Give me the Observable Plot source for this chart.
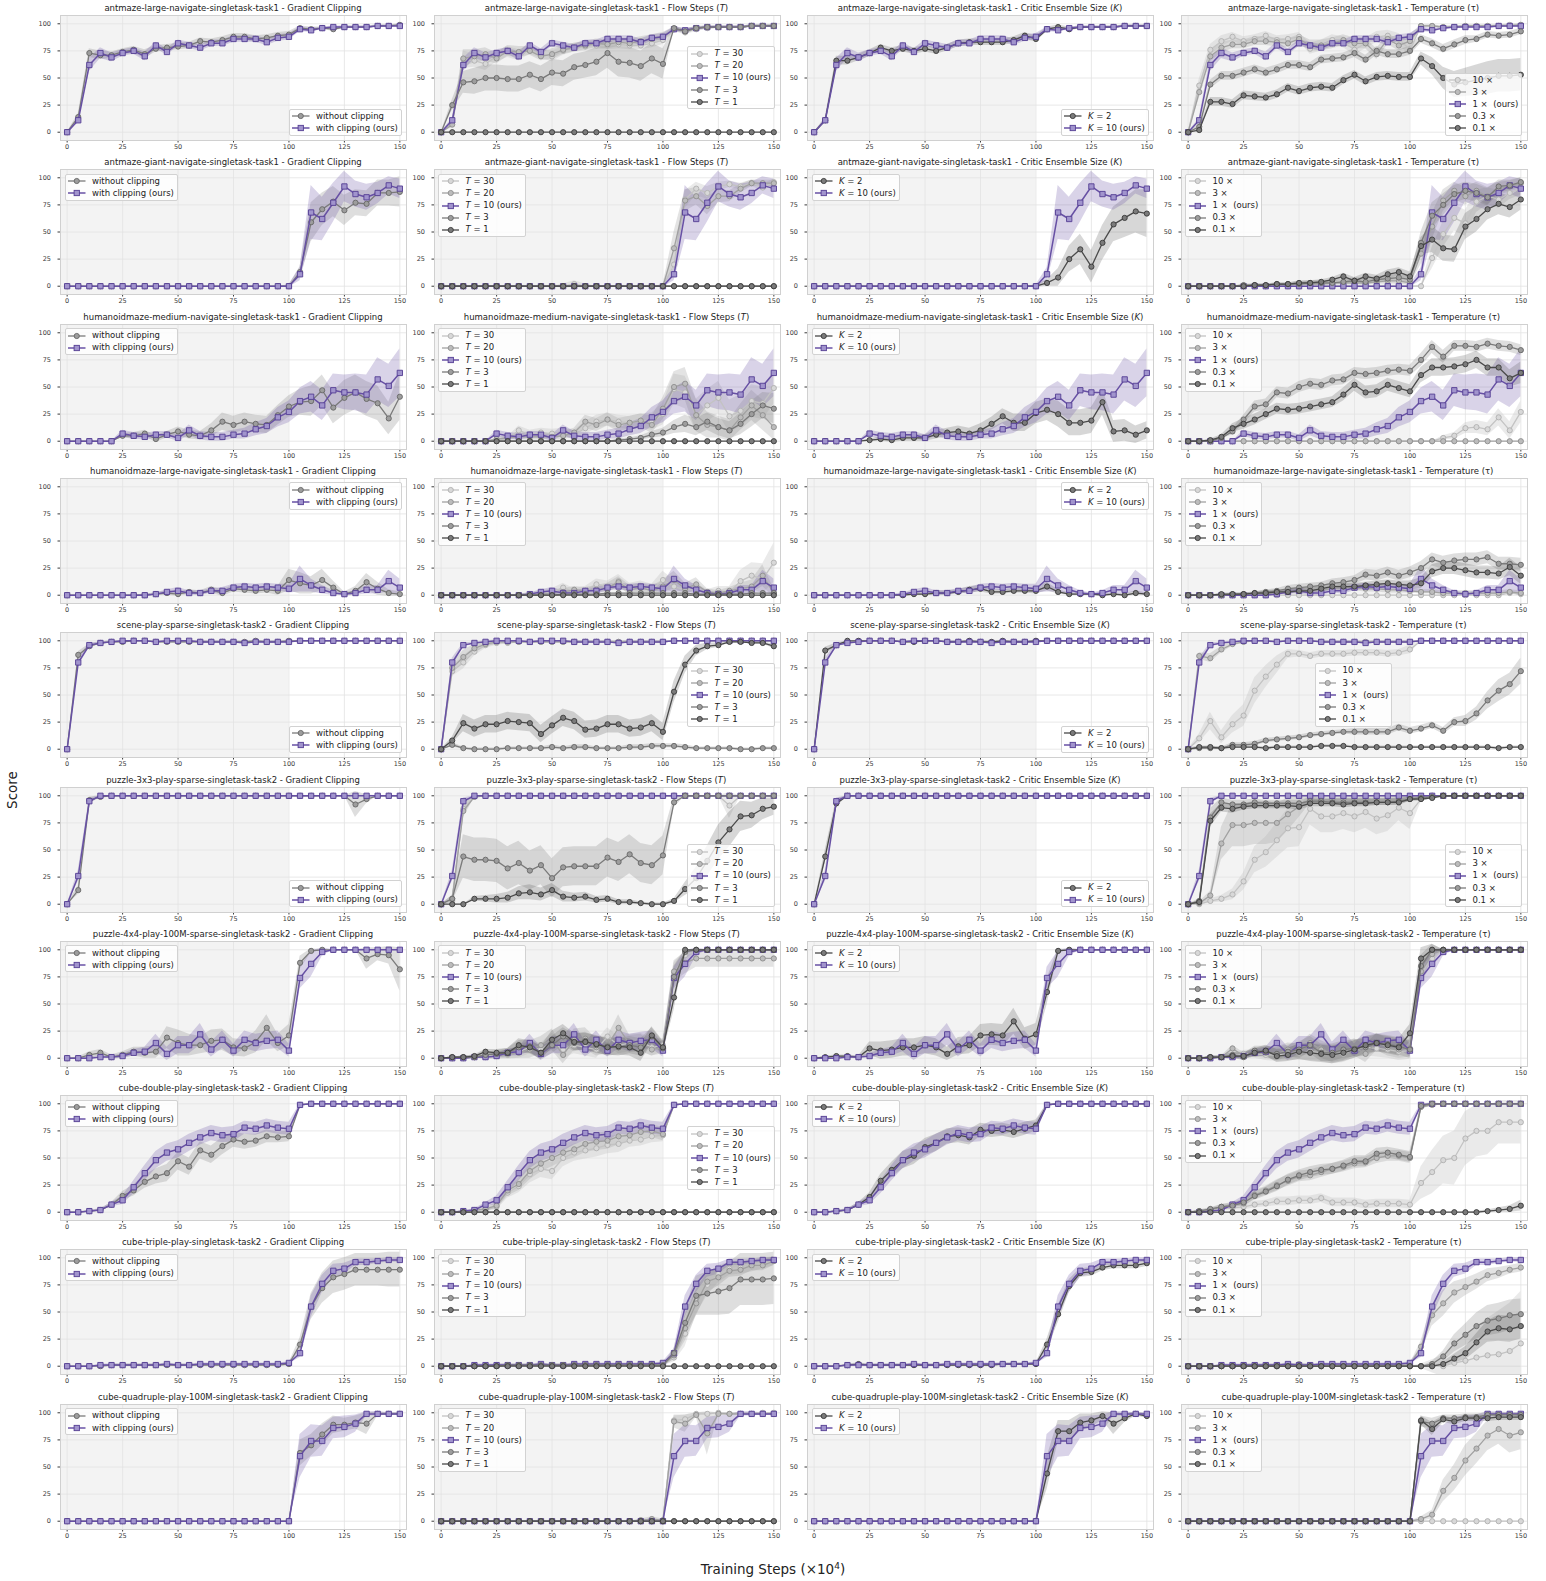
<!DOCTYPE html>
<html>
<head>
<meta charset="utf-8">
<script src="https://cdn.jsdelivr.net/npm/d3@7"></script>
<script src="https://cdn.jsdelivr.net/npm/@observablehq/plot@0.6"></script>
<style>
  body { margin: 0; background: #fff; font-family: "DejaVu Sans", sans-serif; }
  #page { position: relative; width: 1546px; height: 1581px; overflow: hidden; }
  .ttl { position: absolute; font-size: 8.5px; line-height: 10px; color: #222; text-align: center; white-space: nowrap; }
  .leg { position: absolute; background: rgba(255,255,255,0.8); border: 1px solid #d2d2d2; border-radius: 2px;
         font-size: 8.5px; color: #222; padding: 0.5px 3px 0.5px 2.5px; line-height: 1; }
  .le { display: flex; align-items: center; height: 12.1px; white-space: nowrap; }
  .le svg { flex: none; margin-right: 6.5px; }
  .axlab { position: absolute; font-size: 13.5px; color: #222; text-align: center; white-space: nowrap; }
</style>
</head>
<body>
<div id="page"></div>
<script>
// Parse "a b c | d e ..." into numbers; "v*n" repeats v n times.
const v = s => s.replace(/\|/g, " ").trim().split(/\s+/).flatMap(t => {
  const [a, n] = t.split("*");
  return n ? Array(+n).fill(+a) : [+a];
});

// Training steps (x 10^4), one evaluation every 5
const steps = v("0 5 10 15 20 | 25 30 35 40 45 | 50 55 60 65 70 | 75 80 85 90 95 | 100 105 110 115 120 | 125 130 135 140 145 | 150");
const zeros = v("0*31");
const offlineEnd = 100;

// ---------- antmaze-large-navigate-singletask-task1 ----------
const r1Ours     = v("0 11 62 73 69 | 73 75 70 80 74 | 82 80 78 82 82 | 86 86 86 83 87 | 88 95 94 96 97 | 97 97 97 98 98 | 98");
const r1OursSd   = v("0 2 6 5 4 | 3 3 4 3 3 | 3 3 3 3 3 | 3 3 3 3 3 | 3 2 2 1 1 | 1 1 1 1 1 | 1");
const r1NoClip   = v("0 14 73 71 71 | 74 76 72 77 78 | 79 80 84 83 85 | 88 88 86 87 89 | 90 96 95 96 95 | 97 97 97 98 98 | 99");
const r1NoClipSd = v("0 3 4 4 3 | 3 3 4 3 3 | 3 3 3 3 3 | 3 3 3 3 3 | 3 2 2 1 2 | 1 1 1 1 1 | 1");
const r1T30      = v("0 9 67 66 63 | 70 74 71 76 72 | 70 75 78 79 80 | 80 81 80 80 82 | 85 95 92 95 96 | 97 97 97 98 98 | 98");
const r1T20      = v("0 7 68 70 72 | 68 75 74 75 70 | 72 76 78 80 82 | 81 83 82 84 86 | 88 95 93 96 97 | 97 97 97 98 98 | 98");
const r1TSd      = v("0 3 8 6 6 | 5 5 5 4 4 | 5 4 4 4 4 | 4 4 4 4 4 | 4 2 2 2 1 | 1 1 1 1 1 | 1");
const r1T3       = v("0 25 46 47 50 | 50 49 49 53 49 | 55 54 60 62 65 | 73 65 64 61 68 | 63 96 93 96 97 | 97 97 97 98 98 | 98");
const r1T3Sd     = v("0 5 10 12 12 | 12 12 12 12 12 | 12 12 12 12 13 | 14 14 14 14 14 | 14 2 2 1 1 | 1 1 1 1 1 | 1");
const r1K2       = v("0 11 66 66 69 | 73 78 75 77 75 | 77 75 78 82 83 | 83 83 83 85 89 | 86 95 97 95 97 | 97 97 97 98 98 | 98");
const r1K2Sd     = v("0 2 4 4 3 | 3 3 3 3 3 | 3 3 3 3 3 | 3 3 3 3 3 | 3 2 2 2 1 | 1 1 1 1 1 | 1");
const r1Tau10    = v("0 43 76 84 88 | 84 86 89 85 86 | 88 77 80 85 83 | 76 82 88 89 86 | 76 98 98 97 97 | 98 98 98 98 99 | 99");
const r1Tau3     = v("0 37 70 78 81 | 81 84 84 83 82 | 86 80 80 82 85 | 82 82 72 86 80 | 84 98 98 97 97 | 98 98 98 98 98 | 99");
const r1TauHiSd  = v("0 6 5 5 4 | 4 4 4 4 4 | 4 5 5 5 5 | 5 5 5 5 5 | 6 1 1 1 1 | 1 1 1 1 1 | 1");
const r1Tau03    = v("0 5 44 52 52 | 55 58 55 58 62 | 62 60 67 68 69 | 73 67 75 72 72 | 75 86 82 77 81 | 85 86 90 89 90 | 93");
const r1Tau03Sd  = v("0 2 4 4 4 | 4 4 4 4 4 | 4 4 4 4 4 | 4 4 4 4 4 | 4 4 4 4 4 | 4 3 3 3 3 | 3");
const r1Tau01    = v("0 2 28 28 26 | 34 33 32 35 41 | 38 41 42 41 48 | 53 47 51 52 51 | 51 68 61 50 44 | 46 48 50 52 52 | 53");
const r1Tau01Sd  = v("0 1 4 4 4 | 4 4 4 4 4 | 4 4 4 4 4 | 4 4 4 4 4 | 4 6 8 10 12 | 13 14 15 15 15 | 15");

// ---------- antmaze-giant-navigate-singletask-task1 ----------
const r2Ours     = v("0*5 | 0*5 | 0*5 | 0*5 | 0 11 68 62 77 | 92 85 82 86 93 | 90");
const r2OursSd   = v("0*5 | 0*5 | 0*5 | 0*5 | 1 6 25 20 18 | 14 12 12 10 8 | 9");
const r2NoClip   = v("0*5 | 0*5 | 0*5 | 0*5 | 0 13 59 71 78 | 70 77 76 86 86 | 87");
const r2NoClipSd = v("0*5 | 0*5 | 0*5 | 0*5 | 1 5 18 15 14 | 14 12 12 12 12 | 14");
const r2T30      = v("0*5 | 0*5 | 0 0 2 0 0 | 0*5 | 0 20 80 90 86 | 92 94 92 95 91 | 96");
const r2T30Sd    = v("0*5 | 0*5 | 0 2 3 2 0 | 0*5 | 1 10 8 6 6 | 4 3 3 3 3 | 3");
const r2T20      = v("0*5 | 0*5 | 0*5 | 0*5 | 0 35 79 83 74 | 83 83 90 95 95 | 95");
const r2T20Sd    = v("0*5 | 0*5 | 0*5 | 0*5 | 1 15 10 8 8 | 6 5 4 3 3 | 3");
const r2K2       = v("0*5 | 0*5 | 0*5 | 0*5 | 0 3 8 25 34 | 18 40 57 63 69 | 67");
const r2K2Sd     = v("0*5 | 0*5 | 0*5 | 0*5 | 1 3 8 12 14 | 15 16 16 18 20 | 22");
const r2Tau10    = v("0*5 | 0*5 | 0*5 | 0*5 | 0 0 26 48 63 | 58 78 83 80 86 | 90");
const r2Tau10Sd  = v("0*5 | 0*5 | 0*5 | 0*5 | 0 1 10 12 12 | 12 10 8 8 6 | 6");
const r2Tau3     = v("0 0 0 0 0 | 0 1 0 1 1 | 2 2 2 3 3 | 3 3 4 5 5 | 3 30 55 79 88 | 83 88 83 90 92 | 95");
const r2Tau3Sd   = v("0 0 0 0 0 | 0 1 1 1 1 | 1 2 2 2 2 | 2 2 2 3 3 | 2 10 12 10 8 | 8 8 8 6 5 | 5");
const r2Tau03    = v("0 0 0 0 0 | 1 1 1 2 2 | 2 3 3 3 4 | 5 4 6 7 8 | 6 40 65 75 85 | 88 86 82 92 93 | 96");
const r2Tau03Sd  = v("0 0 0 0 0 | 1 1 1 1 1 | 2 2 2 2 2 | 3 3 3 3 3 | 3 10 12 10 8 | 8 8 8 6 5 | 4");
const r2Tau01    = v("0 0 0 0 0 | 0 1 1 2 2 | 3 3 4 6 9 | 5 9 7 11 13 | 9 37 43 35 34 | 55 62 71 76 73 | 80");
const r2Tau01Sd  = v("0 0 0 0 0 | 1 1 1 1 1 | 2 2 2 2 3 | 3 3 3 4 4 | 4 8 12 12 12 | 12 12 10 10 10 | 10");

// ---------- humanoidmaze-medium-navigate-singletask-task1 ----------
const r3Ours     = v("0 0 0 0 0 | 7 5 4 6 6 | 3 10 5 4 4 | 6 7 11 14 22 | 27 37 41 33 47 | 45 45 43 57 51 | 63");
const r3OursSd   = v("0 0 0 0 0 | 3 3 3 3 3 | 3 5 4 4 4 | 4 5 6 7 9 | 10 12 14 14 15 | 16 17 18 20 20 | 22");
const r3NoClip   = v("0 0 0 0 0 | 5 5 7 2 6 | 9 6 5 10 18 | 15 18 16 15 24 | 32 36 37 47 31 | 40 45 39 35 21 | 41");
const r3NoClipSd = v("0 0 0 0 0 | 2 3 3 3 3 | 4 4 4 6 8 | 8 8 8 8 9 | 10 12 14 14 15 | 16 16 16 16 15 | 22");
const r3T30      = v("0 0 0 0 0 | 1 2 10 6 8 | 7 8 6 12 18 | 20 18 17 19 18 | 25 48 45 24 33 | 40 23 28 37 35 | 49");
const r3T30Sd    = v("0 0 0 0 0 | 1 2 4 4 4 | 4 4 4 6 6 | 6 6 6 6 8 | 10 14 15 15 15 | 15 15 15 15 15 | 15");
const r3T20      = v("0 0 0 0 0 | 2 3 4 4 4 | 4 5 8 18 15 | 20 15 17 19 15 | 30 50 53 24 15 | 13 10 22 33 24 | 13");
const r3T20Sd    = v("0 0 0 0 0 | 1 2 3 3 3 | 3 4 4 6 6 | 6 6 6 6 8 | 10 14 15 15 12 | 10 10 12 14 14 | 12");
const r3T3       = v("0 0 0 0 0 | 0 0 0 0 0 | 0 0 0 0 0 | 0 1 2 3 6 | 8 13 16 13 18 | 13 10 16 25 33 | 30");
const r3T3Sd     = v("0 0 0 0 0 | 0 0 0 0 0 | 0 0 0 0 0 | 0 1 1 2 3 | 4 6 8 8 8 | 8 8 10 12 12 | 14");
const r3K2       = v("0 0 0 0 0 | 1 2 1 3 3 | 3 6 8 9 7 | 10 16 23 17 17 | 26 29 25 17 17 | 19 36 9 10 6 | 10");
const r3K2Sd     = v("0 0 0 0 0 | 1 2 2 3 3 | 3 4 4 5 5 | 6 6 7 8 8 | 10 10 12 12 12 | 12 12 10 10 8 | 8");
const r3Tau10    = v("0*5 | 0*5 | 0*5 | 0*5 | 0 0 0 3 5 | 12 13 11 22 10 | 27");
const r3Tau10Sd  = v("0*5 | 0*5 | 0*5 | 0*5 | 0 0 0 2 3 | 5 6 6 8 8 | 10");
const r3Tau03    = v("0 0 0 3 9 | 20 32 34 45 44 | 50 53 52 56 57 | 63 62 63 65 66 | 65 75 87 78 88 | 88 87 90 88 87 | 84");
const r3Tau03Sd  = v("0 0 0 1 3 | 4 5 5 5 5 | 5 5 5 5 5 | 5 5 5 5 5 | 5 6 6 6 5 | 5 5 5 5 5 | 5");
const r3Tau01    = v("0 0 1 4 12 | 16 20 25 30 29 | 30 32 34 36 43 | 52 45 46 52 49 | 46 61 68 68 69 | 71 75 68 68 58 | 63");
const r3Tau01Sd  = v("0 0 1 2 4 | 5 5 5 5 5 | 5 5 5 5 6 | 6 6 6 6 6 | 6 7 8 8 8 | 8 8 8 8 8 | 10");

// ---------- humanoidmaze-large-navigate-singletask-task1 ----------
const r4Ours     = v("0 0 0 0 0 | 0 0 0 1 3 | 4 2 2 4 4 | 7 8 7 8 7 | 6 15 9 5 2 | 1 2 5 5 13 | 7");
const r4OursSd   = v("0 0 0 0 0 | 0 0 1 1 2 | 3 2 2 2 3 | 3 3 3 3 3 | 4 12 6 4 2 | 1 2 4 4 10 | 8");
const r4NoClip   = v("0 0 0 0 0 | 0 0 0 1 2 | 1 3 2 5 2 | 6 5 4 5 4 | 14 11 9 14 7 | 1 4 12 6 2 | 1");
const r4NoClipSd = v("0 0 0 0 0 | 0 0 1 1 2 | 2 2 2 3 3 | 3 3 3 3 4 | 10 10 8 10 6 | 2 4 8 6 3 | 2");
const r4T30      = v("0 0 0 0 0 | 0 0 0 1 2 | 3 7 3 4 10 | 8 13 6 8 5 | 14 8 5 6 2 | 4 3 13 18 15 | 30");
const r4T30Sd    = v("0 0 0 0 0 | 0 0 1 1 2 | 3 4 3 4 5 | 5 6 5 5 5 | 8 6 5 5 3 | 4 5 10 12 14 | 18");
const r4T20      = v("0 0 0 0 0 | 0 0 0 1 1 | 2 3 5 4 5 | 7 12 5 7 4 | 8 14 6 10 3 | 2 4 6 8 18 | 2");
const r4T20Sd    = v("0 0 0 0 0 | 0 0 1 1 1 | 2 3 3 3 4 | 4 5 4 4 4 | 6 8 5 6 3 | 2 3 5 6 10 | 4");
const r4T3       = v("0 0 0 0 0 | 0 0 0 0 0 | 0 1 1 1 1 | 2 2 2 2 2 | 2 2 2 1 1 | 1 1 1 2 2 | 2");
const r4K2       = v("0 0 0 0 0 | 0 0 0 0 1 | 1 2 2 3 5 | 6 3 3 4 4 | 4 8 3 1 1 | 1 0 1 0 2 | 1");
const r4K2Sd     = v("0 0 0 0 0 | 0 0 0 1 1 | 1 2 2 2 3 | 3 2 2 2 2 | 3 4 2 1 1 | 1 1 1 1 2 | 1");
const r4Tau10    = v("0*5 | 0*5 | 0*5 | 0*5 | 0*5 | 0 0 0 0 2 | 1");
const r4Tau3     = v("0 0 0 0 0 | 1 1 1 2 3 | 4 5 5 6 7 | 7 6 6 5 5 | 4 3 3 2 2 | 2 2 2 2 3 | 2");
const r4Tau3Sd   = v("0 0 0 0 0 | 1 1 1 1 2 | 2 2 2 2 3 | 3 3 3 3 3 | 2 2 2 2 2 | 2 2 2 2 2 | 2");
const r4Tau03    = v("0 0 0 0 1 | 1 2 3 4 6 | 7 8 9 11 12 | 14 19 18 21 18 | 21 25 33 30 32 | 33 33 35 29 29 | 28");
const r4Tau03Sd  = v("0 0 0 0 1 | 1 1 2 2 3 | 3 3 3 4 4 | 4 5 5 5 5 | 5 6 6 6 6 | 6 6 6 6 6 | 6");
const r4Tau01    = v("0 0 0 1 1 | 1 2 2 3 3 | 4 4 6 8 8 | 8 9 10 11 10 | 9 11 22 25 25 | 23 21 21 20 26 | 18");
const r4Tau01Sd  = v("0 0 0 1 1 | 1 1 2 2 2 | 2 3 3 3 3 | 3 3 3 3 3 | 4 5 6 6 6 | 6 6 6 6 8 | 8");

// ---------- scene-play-sparse-singletask-task2 ----------
const r5Ours     = v("0 80 96 98 99 | 100 100 100 99 100 | 100 100 99 99 99 | 99 98 99 99 99 | 99 100 100 100 100 | 100*5 | 100");
const r5OursSd   = v("0 4 2 1 1 | 0 0 0 1 0 | 0 0 1 1 1 | 1 1 1 1 1 | 1 0 0 0 0 | 0*5 | 0");
const r5NoClip   = v("0 87 95 98 99 | 99 100 100 99 99 | 99 99 99 99 99 | 99 99 100 99 99 | 100 100 100 100 100 | 100*5 | 100");
const r5NoClipSd = v("0 3 2 1 1 | 1 0 0 1 1 | 1 1 1 1 1 | 1 1 0 1 1 | 0 0 0 0 0 | 0*5 | 0");
const r5T30      = v("0 72 80 90 96 | 98 98 99 99 99 | 99 99 99 99 99 | 99 99 99 99 99 | 99 100 100 100 100 | 100*5 | 100");
const r5T20      = v("0 75 85 93 97 | 99 99 99 99 99 | 99 99 99 99 99 | 99 99 99 99 99 | 99 100 100 100 100 | 100*5 | 100");
const r5TSd      = v("0 5 6 4 3 | 2 1 1 1 1 | 1 1 1 1 1 | 1 1 1 1 1 | 1 0 0 0 0 | 0*5 | 0");
const r5T3       = v("0 4 1 0 0 | 0 1 1 1 1 | 2 1 2 2 1 | 1 1 2 2 3 | 3 3 2 1 1 | 1 1 0 0 1 | 1");
const r5T3Sd     = v("0 2 1 1 1 | 1 1 1 1 1 | 2 1 2 2 1 | 1 1 2 2 2 | 2 2 2 1 1 | 1 1 1 1 1 | 1");
const r5T1       = v("0 8 24 19 23 | 23 26 25 24 14 | 22 29 26 18 19 | 23 23 19 20 24 | 16 53 78 91 95 | 96 99 99 98 98 | 95");
const r5T1Sd     = v("0 3 8 8 8 | 8 8 8 8 8 | 8 8 8 8 8 | 8 8 8 8 8 | 8 10 8 5 3 | 2 1 1 1 1 | 2");
const r5K2       = v("0 91 96 100 100 | 100 100 100 99 99 | 100 100 99 99 100 | 99 99 100 99 99 | 100 100 100 100 100 | 100*5 | 100");
const r5K2Sd     = v("0 3 2 0 0 | 0 0 0 1 1 | 0 0 1 1 0 | 1 1 0 1 1 | 0 0 0 0 0 | 0*5 | 0");
const r5Tau10    = v("0 10 26 11 23 | 31 54 67 78 88 | 88 86 88 88 88 | 89 89 89 88 89 | 92 100 100 100 100 | 100*5 | 100");
const r5Tau10Sd  = v("0 4 8 6 8 | 10 12 10 8 4 | 3 3 3 3 3 | 3 3 3 3 3 | 4 0 0 0 0 | 0*5 | 0");
const r5Tau3     = v("0 86 84 92 97 | 99 100 100 99 100 | 100 100 99 99 99 | 99 99 99 99 99 | 99 100 100 100 100 | 100*5 | 100");
const r5Tau3Sd   = v("0 3 4 3 2 | 1 0 0 1 0 | 0 0 1 1 1 | 1 1 1 1 1 | 1 0 0 0 0 | 0*5 | 0");
const r5Tau03    = v("0 1 1 1 4 | 4 5 8 9 10 | 11 13 14 15 16 | 16 16 16 16 20 | 17 19 22 17 25 | 26 33 45 54 60 | 72");
const r5Tau03Sd  = v("0 1 1 1 2 | 2 2 2 2 2 | 2 2 2 2 2 | 3 3 3 3 3 | 3 3 3 3 4 | 5 6 8 10 10 | 12");
const r5Tau01    = v("0 2 2 1 2 | 2 2 1 2 2 | 2 2 3 3 3 | 2 2 2 2 2 | 2 2 2 2 2 | 2 2 2 1 2 | 2");
const r5Tau01Sd  = v("1*5 | 1*5 | 1*5 | 1*5 | 1*5 | 1*5 | 1");

// ---------- puzzle-3x3-play-sparse-singletask-task2 ----------
const r6Ours     = v("0 26 95 100 100 | 100*5 | 100*5 | 100*5 | 100*5 | 100*5 | 100");
const r6OursSd   = v("0 5 3 0 0 | 0*5 | 0*5 | 0*5 | 0*5 | 0*5 | 0");
const r6NoClip   = v("0 13 96 99 100 | 100*5 | 100*5 | 100*5 | 100*5 | 100 92 97 100 100 | 100");
const r6NoClipSd = v("0 4 3 1 0 | 0*5 | 0*5 | 0*5 | 0*5 | 0 12 4 0 0 | 0");
const r6T30      = v("0 3 88 99 100 | 100*5 | 100*5 | 100*5 | 100*5 | 100 91 100 100 100 | 100");
const r6T30Sd    = v("0 2 6 1 0 | 0*5 | 0*5 | 0*5 | 0*5 | 0 12 0 0 0 | 0");
const r6T20      = v("0 5 86 99 100 | 100*5 | 100*5 | 100*5 | 100*5 | 100*5 | 100");
const r6T20Sd    = v("0 3 6 1 0 | 0*5 | 0*5 | 0*5 | 0*5 | 0*5 | 0");
const r6T3       = v("0 5 44 41 41 | 40 33 38 31 36 | 24 34 35 35 35 | 43 39 46 38 36 | 45 94 100 100 100 | 100*5 | 100");
const r6T3Sd     = v("0 3 20 20 20 | 20 20 20 18 18 | 18 18 18 18 18 | 18 18 18 18 18 | 18 5 0 0 0 | 0*5 | 0");
const r6T1       = v("0 0 0 5 5 | 5 6 10 11 9 | 13 7 6 7 4 | 5 2 2 1 0 | 0 3 14 24 40 | 57 69 81 82 88 | 90");
const r6T1Sd     = v("0 0 0 2 3 | 4 5 6 7 6 | 6 5 4 4 3 | 3 2 2 1 1 | 1 2 6 10 14 | 16 16 14 12 10 | 8");
const r6K2       = v("0 44 93 100 100 | 100*5 | 100*5 | 100*5 | 100*5 | 100*5 | 100");
const r6K2Sd     = v("0 6 4 0 0 | 0*5 | 0*5 | 0*5 | 0*5 | 0*5 | 0");
const r6Tau10    = v("0 0 3 5 9 | 21 41 48 59 70 | 71 88 81 81 84 | 81 85 79 82 89 | 84 97 100 100 100 | 100*5 | 100");
const r6Tau10Sd  = v("0 1 2 3 5 | 8 12 14 16 18 | 18 15 15 15 15 | 15 15 15 15 12 | 15 3 0 0 0 | 0*5 | 0");
const r6Tau3     = v("0 1 8 56 73 | 73 75 75 75 83 | 90 97 96 97 97 | 97 97 97 97 97 | 97 99 100 100 100 | 100*5 | 100");
const r6Tau3Sd   = v("0 1 4 15 20 | 20 20 20 18 15 | 10 4 3 3 3 | 3 3 3 3 3 | 3 1 0 0 0 | 0*5 | 0");
const r6Tau03    = v("0 3 80 94 92 | 92 94 93 93 93 | 93 95 95 94 94 | 94 94 94 94 95 | 97 98 99 100 100 | 100*5 | 100");
const r6Tau03Sd  = v("0 2 8 4 4 | 4 3 3 3 3 | 3 3 3 3 3 | 3 3 3 3 3 | 2 1 1 0 0 | 0*5 | 0");
const r6Tau01    = v("0 2 77 89 88 | 90 91 91 91 91 | 90 93 93 93 92 | 93 93 94 94 94 | 97 97 98 100 100 | 100*5 | 100");
const r6Tau01Sd  = v("0 1 6 4 4 | 3 3 3 3 3 | 3 3 3 3 3 | 3 3 3 3 3 | 2 2 1 0 0 | 0*5 | 0");

// ---------- puzzle-4x4-play-100M-sparse-singletask-task2 ----------
const r7Ours     = v("0 0 0 1 1 | 2 5 6 14 4 | 12 12 22 8 17 | 7 17 14 16 17 | 7 74 87 98 100 | 100*5 | 100");
const r7OursSd   = v("0 0 1 1 1 | 2 3 4 8 6 | 8 8 10 7 8 | 6 8 8 8 8 | 6 10 12 4 0 | 0*5 | 0");
const r7NoClip   = v("0 0 3 5 1 | 3 6 5 6 19 | 14 12 12 16 17 | 10 9 15 28 14 | 21 88 99 100 100 | 100 100 92 96 95 | 82");
const r7NoClipSd = v("0 1 3 3 2 | 3 4 5 6 10 | 12 10 8 10 10 | 8 8 10 12 8 | 10 6 2 0 0 | 0 0 10 6 8 | 20");
const r7T30      = v("0 0 1 1 2 | 3 3 6 10 8 | 15 8 12 10 8 | 20 12 14 15 10 | 12 78 95 99 100 | 100*5 | 100");
const r7T30Sd    = v("0 0 1 1 2 | 3 4 6 6 6 | 8 8 8 8 8 | 8 8 8 8 8 | 6 10 4 1 0 | 0*5 | 0");
const r7T20      = v("0 0 0 1 1 | 2 4 5 8 12 | 17 3 17 18 10 | 12 28 13 14 8 | 10 80 88 92 92 | 92 92 92 92 92 | 92");
const r7T20Sd    = v("0 0 1 1 2 | 3 4 5 8 8 | 10 8 10 10 8 | 8 12 8 8 6 | 6 10 10 8 8 | 8 8 8 8 8 | 8");
const r7T3       = v("0 1 1 1 3 | 4 5 10 11 5 | 12 20 14 16 12 | 11 10 12 10 20 | 9 75 98 100 100 | 100*5 | 100");
const r7T3Sd     = v("0 0 1 1 2 | 3 4 6 6 6 | 8 8 8 8 8 | 8 8 8 8 8 | 6 10 2 0 0 | 0*5 | 0");
const r7T1       = v("0 1 1 2 6 | 5 5 12 10 5 | 17 23 15 15 13 | 10 11 10 5 21 | 10 56 100 100 100 | 100*5 | 100");
const r7T1Sd     = v("0 0 1 1 2 | 3 4 6 6 6 | 8 8 8 8 8 | 8 8 8 8 8 | 6 12 0 0 0 | 0*5 | 0");
const r7K2       = v("0 1 2 2 1 | 9 7 8 10 10 | 12 10 4 11 12 | 21 22 21 34 18 | 22 61 99 100 100 | 100*5 | 100");
const r7K2Sd     = v("0 1 1 1 1 | 6 8 8 8 8 | 8 8 6 8 8 | 10 10 10 12 10 | 10 12 2 0 0 | 0*5 | 0");
const r7Tau10    = v("0 0 0 1 2 | 4 4 3 3 4 | 5 6 5 3 4 | 8 10 9 8 6 | 7 78 92 100 100 | 100*5 | 100");
const r7Tau3     = v("0 0 1 1 9 | 2 5 5 4 8 | 6 14 8 4 6 | 10 4 15 10 8 | 9 80 96 100 100 | 100*5 | 100");
const r7Tau03    = v("0 0 1 1 3 | 1 7 6 4 6 | 8 12 5 5 8 | 9 10 14 13 11 | 8 85 100 100 100 | 100*5 | 100");
const r7Tau01    = v("0 0 1 1 2 | 2 5 7 2 3 | 6 5 4 3 5 | 8 12 14 12 10 | 23 92 100 100 100 | 100*5 | 100");
const r7TauSd    = v("0 0 1 1 3 | 3 4 5 6 6 | 7 8 8 8 8 | 8 8 8 8 8 | 8 10 5 0 0 | 0*5 | 0");

// ---------- cube-double-play-singletask-task2 ----------
const r8Ours     = v("0 0 1 2 7 | 11 23 36 48 55 | 58 64 69 73 71 | 72 78 77 80 78 | 77 99 100 100 100 | 100*5 | 100");
const r8OursSd   = v("0 0 1 1 2 | 4 6 7 8 8 | 8 8 7 7 7 | 7 6 6 6 6 | 6 1 0 0 0 | 0*5 | 0");
const r8NoClip   = v("0 0 1 2 7 | 15 20 28 33 36 | 47 42 57 53 61 | 67 65 66 70 69 | 70 99 100 100 100 | 100*5 | 100");
const r8NoClipSd = v("0 0 1 1 2 | 4 5 6 7 8 | 8 8 8 8 8 | 7 7 6 6 5 | 5 1 0 0 0 | 0*5 | 0");
const r8T30      = v("0 0 0 1 2 | 5 18 24 35 40 | 38 50 55 57 59 | 62 63 66 67 70 | 71 99 100 100 100 | 100*5 | 100");
const r8T20      = v("0 0 1 2 3 | 6 20 26 38 45 | 50 55 58 63 65 | 66 70 71 74 75 | 72 99 100 100 100 | 100*5 | 100");
const r8TSd      = v("0 0 0 1 1 | 3 5 6 8 8 | 8 8 8 8 8 | 8 8 6 6 6 | 6 1 0 0 0 | 0*5 | 0");
const r8K2       = v("0 0 1 2 7 | 14 29 39 48 52 | 60 64 70 71 69 | 76 75 76 74 77 | 80 99 100 100 100 | 100*5 | 100");
const r8K2Sd     = v("0 0 1 1 2 | 4 6 7 8 8 | 8 8 7 7 7 | 6 6 6 6 6 | 5 1 0 0 0 | 0*5 | 0");
const r8Tau10    = v("0 1 2 3 4 | 5 7 8 10 10 | 11 11 13 9 9 | 9 7 8 8 8 | 7 27 37 48 50 | 68 75 75 83 83 | 83");
const r8Tau10Sd  = v("0 1 1 2 2 | 3 3 3 4 4 | 4 4 4 4 4 | 4 4 4 4 4 | 4 15 20 22 25 | 25 24 22 20 20 | 20");
const r8Tau3     = v("0 1 2 5 7 | 8 16 20 25 29 | 33 34 37 40 42 | 45 46 50 52 52 | 50 97 99 100 100 | 100*5 | 100");
const r8Tau03    = v("0 1 3 5 6 | 9 15 19 24 30 | 34 37 39 40 43 | 47 47 54 55 53 | 51 98 100 100 100 | 100*5 | 100");
const r8TauMidSd = v("0 1 1 2 2 | 3 4 4 5 5 | 5 5 5 5 5 | 5 5 5 5 5 | 5 2 1 0 0 | 0*5 | 0");
const r8Tau01    = v("0*5 | 0*5 | 0*5 | 0*5 | 0*5 | 0 0 1 2 3 | 6");
const r8Tau01Sd  = v("0*5 | 0*5 | 0*5 | 0*5 | 0*5 | 0 1 1 2 3 | 5");

// ---------- cube-triple-play-singletask-task2 ----------
const r9Ours     = v("0 0 0 1 1 | 1 1 1 1 2 | 1 1 2 2 2 | 2 2 2 2 2 | 3 12 55 76 88 | 90 96 96 97 98 | 98");
const r9OursSd   = v("0 0 0 1 1 | 1 1 1 1 1 | 1 1 1 1 1 | 1 1 1 1 1 | 1 4 10 8 6 | 5 3 3 2 2 | 2");
const r9NoClip   = v("0 0 0 0 1 | 1 1 1 1 1 | 1 1 1 1 1 | 1 1 1 1 1 | 2 20 55 72 82 | 85 89 89 89 89 | 89");
const r9NoClipSd = v("0 0 0 0 1 | 1 1 1 1 1 | 1 1 1 1 1 | 1 1 1 1 1 | 1 6 12 14 15 | 15 15 15 15 16 | 16");
const r9T30      = v("0 0 0 0 0 | 1 1 1 1 1 | 1 1 1 1 1 | 1 1 1 1 1 | 1 8 30 60 75 | 85 90 91 92 95 | 97");
const r9T20      = v("0 0 0 0 0 | 1 1 1 1 1 | 1 1 1 1 1 | 1 1 1 1 2 | 1 10 35 58 78 | 82 88 89 93 93 | 97");
const r9TSd      = v("0 0 0 0 0 | 1 1 1 1 1 | 1 1 1 1 1 | 1 1 1 1 1 | 1 4 12 12 10 | 8 6 6 5 5 | 4");
const r9T3       = v("0 0 0 0 0 | 0 1 1 1 1 | 1 1 1 1 1 | 1 1 1 1 1 | 1 12 40 65 67 | 69 72 80 80 80 | 81");
const r9T3Sd     = v("0*5 | 0*5 | 0*5 | 0*5 | 0 4 12 18 20 | 22 24 24 24 24 | 24");
const r9K2       = v("0 0 0 1 2 | 1 1 1 1 1 | 1 1 1 1 1 | 1 1 2 2 2 | 2 20 48 74 86 | 87 91 93 93 93 | 95");
const r9K2Sd     = v("0 0 0 1 1 | 1 1 1 1 1 | 1 1 1 1 1 | 1 1 1 1 1 | 1 5 8 6 4 | 4 3 3 3 3 | 3");
const r9Tau10    = v("0*5 | 0*5 | 0*5 | 0*5 | 0 0 0 0 3 | 5 8 10 11 14 | 21");
const r9Tau10Sd  = v("0*5 | 0*5 | 0*5 | 0*5 | 0 2 6 10 16 | 22 28 34 40 44 | 48");
const r9Tau3     = v("0 0 0 0 0 | 1 1 1 1 1 | 2 1 1 1 1 | 1 1 1 1 1 | 1 18 47 58 68 | 73 78 84 86 89 | 91");
const r9Tau3Sd   = v("0 0 0 0 0 | 1 1 1 1 1 | 1 1 1 1 1 | 1 1 1 1 1 | 1 5 10 12 10 | 8 7 6 5 4 | 4");
const r9Tau03    = v("0*5 | 0*5 | 0*5 | 0*5 | 0 0 2 9 21 | 29 37 42 44 47 | 48");
const r9Tau03Sd  = v("0*5 | 0*5 | 0*5 | 0*5 | 0 0 2 5 8 | 10 12 14 14 14 | 14");
const r9Tau01    = v("0*5 | 0*5 | 0*5 | 0*5 | 0 0 0 2 7 | 12 22 32 35 34 | 37");
const r9Tau01Sd  = v("0*5 | 0*5 | 0*5 | 0*5 | 0 0 0 2 4 | 6 8 10 12 12 | 12");

// ---------- cube-quadruple-play-100M-singletask-task2 ----------
const r10Ours     = v("0*5 | 0*5 | 0*5 | 0*5 | 0 60 74 74 86 | 87 90 99 99 99 | 99");
const r10OursSd   = v("0*5 | 0*5 | 0*5 | 0*5 | 0 20 15 14 10 | 10 8 2 2 1 | 1");
const r10NoClip   = v("0*5 | 0*5 | 0*5 | 0*5 | 0 63 70 80 89 | 89 91 90 99 99 | 99");
const r10NoClipSd = v("0*5 | 0*5 | 0*5 | 0*5 | 0 12 10 10 8 | 6 6 10 2 1 | 1");
const r10T30      = v("0*5 | 0*5 | 0*5 | 0*5 | 0 93 94 99 99 | 100 99 99 99 100 | 100");
const r10T30Sd    = v("0*5 | 0*5 | 0*5 | 0*5 | 0 4 4 1 1 | 0 1 1 1 0 | 0");
const r10T20      = v("0*5 | 0*5 | 0*5 | 0 0 0 1 2 | 1 92 90 98 81 | 99 99 99 99 99 | 99");
const r10T20Sd    = v("0*5 | 0*5 | 0*5 | 0 0 0 1 2 | 1 6 8 2 20 | 1 1 1 1 1 | 1");
const r10K2       = v("0*5 | 0*5 | 0*5 | 0*5 | 0 44 83 83 91 | 93 97 90 95 99 | 97");
const r10K2Sd     = v("0*5 | 0*5 | 0*5 | 0*5 | 0 15 10 10 8 | 6 4 10 4 2 | 2");
const r10Tau3     = v("0*5 | 0*5 | 0*5 | 0*5 | 0 2 6 28 40 | 56 67 79 85 79 | 82");
const r10Tau3Sd   = v("0*5 | 0*5 | 0*5 | 0*5 | 0 2 4 10 12 | 14 14 14 14 16 | 16");
const r10Tau03    = v("0*5 | 0*5 | 0*5 | 0*5 | 0 92 90 95 95 | 96 96 98 98 98 | 98");
const r10Tau03Sd  = v("0*5 | 0*5 | 0*5 | 0*5 | 0 5 5 3 3 | 3 3 2 2 2 | 2");
const r10Tau01    = v("0*5 | 0*5 | 0*5 | 0*5 | 0 93 85 94 92 | 95 95 95 96 96 | 96");
const r10Tau01Sd  = v("0*5 | 0*5 | 0*5 | 0*5 | 0 4 6 3 3 | 3 3 3 3 3 | 3");

// Environment names (one row each) and legend placement per column
const tasks = [
  "antmaze-large-navigate-singletask-task1",
  "antmaze-giant-navigate-singletask-task1",
  "humanoidmaze-medium-navigate-singletask-task1",
  "humanoidmaze-large-navigate-singletask-task1",
  "scene-play-sparse-singletask-task2",
  "puzzle-3x3-play-sparse-singletask-task2",
  "puzzle-4x4-play-100M-sparse-singletask-task2",
  "cube-double-play-singletask-task2",
  "cube-triple-play-singletask-task2",
  "cube-quadruple-play-100M-singletask-task2"
];
const legendSpots = [
  ["lr", "cr", "lr", "lr"],
  ["ul", "ul", "ul", "ul"],
  ["ul", "ul", "ul", "ul"],
  ["ur", "ul", "ur", "ul"],
  ["lr", "cr", "lr", "c"],
  ["lr", "lr", "lr", "lr"],
  ["ul", "ul", "ul", "ul"],
  ["ul", "cr", "ul", "ul"],
  ["ul", "ul", "ul", "ul"],
  ["ul", "ul", "ul", "ul"]
];
const panelNames = ["Gradient Clipping", "Flow Steps (<i>T</i>)", "Critic Ensemble Size (<i>K</i>)", "Temperature (τ)"];

// Each row: [ours, without clipping, T=30, T=20, T=3, T=1, K=2, 10x, 3x, 0.3x, 0.1x] as [values, spread]
const rowSeries = [
  [[r1Ours, r1OursSd], [r1NoClip, r1NoClipSd], [r1T30, r1TSd], [r1T20, r1TSd], [r1T3, r1T3Sd], [zeros, null], [r1K2, r1K2Sd], [r1Tau10, r1TauHiSd], [r1Tau3, r1TauHiSd], [r1Tau03, r1Tau03Sd], [r1Tau01, r1Tau01Sd]],
  [[r2Ours, r2OursSd], [r2NoClip, r2NoClipSd], [r2T30, r2T30Sd], [r2T20, r2T20Sd], [zeros, null], [zeros, null], [r2K2, r2K2Sd], [r2Tau10, r2Tau10Sd], [r2Tau3, r2Tau3Sd], [r2Tau03, r2Tau03Sd], [r2Tau01, r2Tau01Sd]],
  [[r3Ours, r3OursSd], [r3NoClip, r3NoClipSd], [r3T30, r3T30Sd], [r3T20, r3T20Sd], [r3T3, r3T3Sd], [zeros, null], [r3K2, r3K2Sd], [r3Tau10, r3Tau10Sd], [zeros, null], [r3Tau03, r3Tau03Sd], [r3Tau01, r3Tau01Sd]],
  [[r4Ours, r4OursSd], [r4NoClip, r4NoClipSd], [r4T30, r4T30Sd], [r4T20, r4T20Sd], [r4T3, null], [zeros, null], [r4K2, r4K2Sd], [r4Tau10, null], [r4Tau3, r4Tau3Sd], [r4Tau03, r4Tau03Sd], [r4Tau01, r4Tau01Sd]],
  [[r5Ours, r5OursSd], [r5NoClip, r5NoClipSd], [r5T30, r5TSd], [r5T20, r5TSd], [r5T3, r5T3Sd], [r5T1, r5T1Sd], [r5K2, r5K2Sd], [r5Tau10, r5Tau10Sd], [r5Tau3, r5Tau3Sd], [r5Tau03, r5Tau03Sd], [r5Tau01, r5Tau01Sd]],
  [[r6Ours, r6OursSd], [r6NoClip, r6NoClipSd], [r6T30, r6T30Sd], [r6T20, r6T20Sd], [r6T3, r6T3Sd], [r6T1, r6T1Sd], [r6K2, r6K2Sd], [r6Tau10, r6Tau10Sd], [r6Tau3, r6Tau3Sd], [r6Tau03, r6Tau03Sd], [r6Tau01, r6Tau01Sd]],
  [[r7Ours, r7OursSd], [r7NoClip, r7NoClipSd], [r7T30, r7T30Sd], [r7T20, r7T20Sd], [r7T3, r7T3Sd], [r7T1, r7T1Sd], [r7K2, r7K2Sd], [r7Tau10, r7TauSd], [r7Tau3, r7TauSd], [r7Tau03, r7TauSd], [r7Tau01, r7TauSd]],
  [[r8Ours, r8OursSd], [r8NoClip, r8NoClipSd], [r8T30, r8TSd], [r8T20, r8TSd], [zeros, null], [zeros, null], [r8K2, r8K2Sd], [r8Tau10, r8Tau10Sd], [r8Tau3, r8TauMidSd], [r8Tau03, r8TauMidSd], [r8Tau01, r8Tau01Sd]],
  [[r9Ours, r9OursSd], [r9NoClip, r9NoClipSd], [r9T30, r9TSd], [r9T20, r9TSd], [r9T3, r9T3Sd], [zeros, null], [r9K2, r9K2Sd], [r9Tau10, r9Tau10Sd], [r9Tau3, r9Tau3Sd], [r9Tau03, r9Tau03Sd], [r9Tau01, r9Tau01Sd]],
  [[r10Ours, r10OursSd], [r10NoClip, r10NoClipSd], [r10T30, r10T30Sd], [r10T20, r10T20Sd], [zeros, null], [zeros, null], [r10K2, r10K2Sd], [zeros, null], [r10Tau3, r10Tau3Sd], [r10Tau03, r10Tau03Sd], [r10Tau01, r10Tau01Sd]]
];

// Line / marker styles
const purple = {line: "#6750a4", fill: "#a194cd", stroke: "#533d93", symbol: "square", r: 3, w: 1.5, band: 0.25};
const grey1  = {line: "#c3c3c3", fill: "#d8d8d8", stroke: "#b0b0b0", symbol: "circle", r: 2.6, w: 1.3, band: 0.35};
const grey2  = {line: "#a1a1a1", fill: "#bcbcbc", stroke: "#8d8d8d", symbol: "circle", r: 2.6, w: 1.3, band: 0.3};
const grey3  = {line: "#7a7a7a", fill: "#9d9d9d", stroke: "#676767", symbol: "circle", r: 2.6, w: 1.3, band: 0.25};
const grey4  = {line: "#4a4a4a", fill: "#7b7b7b", stroke: "#393939", symbol: "circle", r: 2.6, w: 1.3, band: 0.22};

function seriesFor(r, c) {
  const S = rowSeries[r];
  const mk = (pair, label, shade) => ({vals: pair[0], sd: pair[1], label, shade});
  if (c === 0) return [mk(S[1], "without clipping", grey3), mk(S[0], "with clipping (ours)", purple)];
  if (c === 1) return [mk(S[2], "<i>T</i> = 30", grey1), mk(S[3], "<i>T</i> = 20", grey2), mk(S[0], "<i>T</i> = 10 (ours)", purple),
                       mk(S[4], "<i>T</i> = 3", grey3), mk(S[5], "<i>T</i> = 1", grey4)];
  if (c === 2) return [mk(S[6], "<i>K</i> = 2", grey4), mk(S[0], "<i>K</i> = 10 (ours)", purple)];
  return [mk(S[7], "10 ×", grey1), mk(S[8], "3 ×", grey2), mk(S[0], "1 ×&nbsp; (ours)", purple),
          mk(S[9], "0.3 ×", grey3), mk(S[10], "0.1 ×", grey4)];
}

// Layout
const xDomain = [-3, 153], yDomain = [-7.65, 107.65];
const xTicks = [0, 25, 50, 75, 100, 125, 150], yTicks = [0, 25, 50, 75, 100];
const FW = 346, FH = 125, COL = 373.5, ROW = 154.3, LEFT0 = 60, TOP0 = 15;
const ML = 26, MR = 4, MT = 2, MB = 13;
const page = document.getElementById("page");

function drawPanel(r, c) {
  const L = LEFT0 + COL * c, T = TOP0 + ROW * r;
  const series = seriesFor(r, c);
  const marks = [
    Plot.rect([{a: xDomain[0], b: offlineEnd, lo: yDomain[0], hi: yDomain[1]}], {x1: "a", x2: "b", y1: "lo", y2: "hi", fill: "#f3f3f3"}),
    Plot.ruleX(xTicks, {stroke: "#e2e2e2", strokeWidth: 0.8}),
    Plot.ruleY(yTicks, {stroke: "#e2e2e2", strokeWidth: 0.8})
  ];
  for (const s of series) {
    if (!s.sd) continue;
    const band = steps.map((x, i) => ({x, lo: s.vals[i] - s.sd[i], hi: s.vals[i] + s.sd[i]}));
    marks.push(Plot.areaY(band, {x: "x", y1: "lo", y2: "hi", fill: s.shade.line, fillOpacity: s.shade.band, clip: true}));
  }
  for (const s of series) {
    const pts = steps.map((x, i) => ({x, y: s.vals[i]}));
    marks.push(Plot.line(pts, {x: "x", y: "y", stroke: s.shade.line, strokeWidth: s.shade.w, clip: true}));
    marks.push(Plot.dot(pts, {x: "x", y: "y", symbol: s.shade.symbol, r: s.shade.r, fill: s.shade.fill, stroke: s.shade.stroke, strokeWidth: 0.9}));
  }
  marks.push(Plot.frame({stroke: "#d0d0d0"}));

  const svg = Plot.plot({
    width: ML + FW + MR, height: MT + FH + MB,
    marginLeft: ML, marginRight: MR, marginTop: MT, marginBottom: MB,
    x: {domain: xDomain, ticks: xTicks, tickSize: 2.5, tickPadding: 1.5, label: null},
    y: {domain: yDomain, ticks: yTicks, tickSize: 2.5, tickPadding: 7, label: null},
    style: {fontFamily: "DejaVu Sans", fontSize: "6.5px", color: "#3a3a3a", background: "transparent", overflow: "visible"},
    marks
  });
  svg.style.position = "absolute";
  svg.style.left = (L - ML) + "px";
  svg.style.top = (T - MT) + "px";
  page.appendChild(svg);

  const title = document.createElement("div");
  title.className = "ttl";
  title.style.left = L + "px";
  title.style.width = FW + "px";
  title.style.top = (T - 12) + "px";
  title.innerHTML = `${tasks[r]} - ${panelNames[c]}`;
  page.appendChild(title);

  drawLegend(series, legendSpots[r][c], L, T);
}

function drawLegend(series, spot, L, T) {
  const box = document.createElement("div");
  box.className = "leg";
  for (const s of series) {
    const sh = s.shade;
    const marker = sh.symbol === "square"
      ? `<rect x="6.1" y="1.35" width="5.3" height="5.3" fill="${sh.fill}" stroke="${sh.stroke}" stroke-width="0.9"/>`
      : `<circle cx="8.75" cy="4" r="2.6" fill="${sh.fill}" stroke="${sh.stroke}" stroke-width="0.9"/>`;
    const row = document.createElement("div");
    row.className = "le";
    row.innerHTML = `<svg width="17.5" height="8"><line x1="0" x2="17.5" y1="4" y2="4" stroke="${sh.line}" stroke-width="${sh.w}"/>${marker}</svg><span>${s.label}</span>`;
    box.appendChild(row);
  }
  page.appendChild(box);
  const w = box.offsetWidth, h = box.offsetHeight, pad = 4.5;
  let x = L + pad, y = T + pad;
  if (spot === "lr") { x = L + FW - pad - w; y = T + FH - pad - h; }
  if (spot === "ur") { x = L + FW - pad - w; }
  if (spot === "cr") { x = L + FW - pad - w; y = T + (FH - h) / 2; }
  if (spot === "c")  { x = L + (FW - w) / 2; y = T + (FH - h) / 2; }
  box.style.left = x + "px";
  box.style.top = y + "px";
}

for (let r = 0; r < tasks.length; r++)
  for (let c = 0; c < 4; c++) drawPanel(r, c);

// Shared axis labels
const ylab = document.createElement("div");
ylab.className = "axlab";
ylab.style.cssText += "left:-38px;top:782px;width:100px;height:16px;line-height:16px;transform:rotate(-90deg);";
ylab.textContent = "Score";
page.appendChild(ylab);

const xlab = document.createElement("div");
xlab.className = "axlab";
xlab.style.cssText += "left:573px;top:1561px;width:400px;line-height:16px;";
xlab.innerHTML = "Training Steps (×10<sup style='font-size:9px;line-height:0'>4</sup>)";
page.appendChild(xlab);
</script>
</body>
</html>
